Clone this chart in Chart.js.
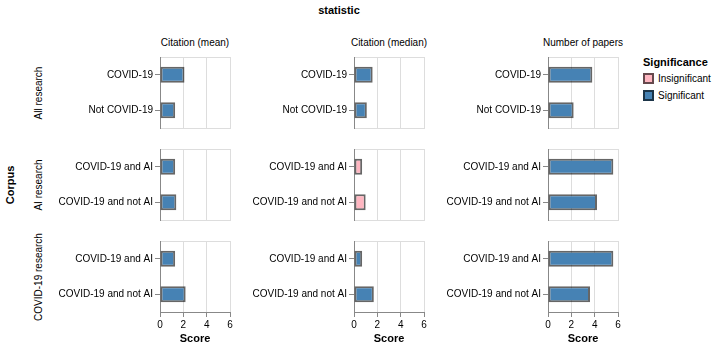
<!DOCTYPE html>
<html>
<head>
<meta charset="utf-8">
<script src="https://cdn.jsdelivr.net/npm/chart.js@4.4.0/dist/chart.umd.min.js"></script>
<style>
  body { margin: 0; background: #fff; font-family: "Liberation Sans", Arial, sans-serif; }
  #wrap { position: relative; width: 716px; height: 349px; overflow: hidden; }
  canvas { position: absolute; }
  .txt { position: absolute; white-space: nowrap; color: #000; font-size: 10px; transform: translate(-50%, -50%); }
  .bold { font-weight: bold; font-size: 11px; }
  .rot { transform: translate(-50%, -50%) rotate(-90deg); }
  .sw { position: absolute; width: 11px; height: 11px; border: 2px solid rgba(0,0,0,0.6); box-sizing: border-box; }
  .lab { position: absolute; font-size: 10px; transform: translateY(-50%); white-space: nowrap; }
</style>
</head>
<body>
<div id="wrap">
  <div class="txt bold" style="left:339px; top:10px;">statistic</div>
  <div class="txt bold rot" style="left:10px; top:185px;">Corpus</div>
  <div class="txt bold" style="left:643px; top:62px; transform:translateY(-50%);">Significance</div>
  <div class="sw" style="left:643px; top:73px; background:#ffb6c1;"></div>
  <div class="lab" style="left:658px; top:78px;">Insignificant</div>
  <div class="sw" style="left:643px; top:90px; background:#4682b4;"></div>
  <div class="lab" style="left:658px; top:95px;">Significant</div>
</div>
<script>
const statistics = ["Citation (mean)", "Citation (median)", "Number of papers"];
const corpora = ["All research", "AI research", "COVID-19 research"];
const groups = [
  ["COVID-19", "Not COVID-19"],
  ["COVID-19 and AI", "COVID-19 and not AI"],
  ["COVID-19 and AI", "COVID-19 and not AI"]
];
// one inner array per corpus row
const citationMean = [[2.1, 1.3], [1.3, 1.4], [1.3, 2.2]];
const citationMedian = [[1.6, 1.1], [0.7, 1.0], [0.7, 1.7]];
const paperCount = [[3.8, 2.2], [5.6, 4.2], [5.6, 3.6]];
const meanSignificant = [[true, true], [true, true], [true, true]];
const medianSignificant = [[true, true], [false, false], [true, true]];
const countSignificant = [[true, true], [true, true], [true, true]];
const scoreTicks = [0, 2, 4, 6];

const values = [citationMean, citationMedian, paperCount];
const significant = [meanSignificant, medianSignificant, countSignificant];

Chart.defaults.font.family = '"Liberation Sans", Arial, sans-serif';
Chart.defaults.color = "#000";

const wrap = document.getElementById("wrap");
const plotLeft = [160, 354, 548];
const plotTop = [57, 149, 241];
const plotW = 70, plotH = 71;
const yW = 120, pad = 3, xH = 37;

function addText(html, x, y, cls) {
  const d = document.createElement("div");
  d.className = "txt " + (cls || "");
  d.style.left = x + "px";
  d.style.top = y + "px";
  d.textContent = html;
  wrap.appendChild(d);
}

statistics.forEach((s, c) => addText(s, plotLeft[c] + plotW / 2, 42));
corpora.forEach((s, r) => addText(s, 38, plotTop[r] + plotH / 2, "rot"));

const frame = {
  id: "frame",
  beforeDraw(chart) {
    const a = chart.chartArea, ctx = chart.ctx;
    ctx.save();
    ctx.strokeStyle = "#ddd";
    ctx.lineWidth = 1;
    const l = Math.round(a.left), t = Math.round(a.top), r = Math.round(a.right), b = Math.round(a.bottom);
    ctx.strokeRect(l + 0.5, t + 0.5, r - l, b - t);
    ctx.restore();
  }
};

function noPad(s) {
  s.paddingTop = 0; s.paddingBottom = 0; s.paddingLeft = 0; s.paddingRight = 0;
}

function makeChart(r, c) {
  const bottom = r === 2;
  const cv = document.createElement("canvas");
  const w = yW + plotW + pad;
  const h = pad + plotH + (bottom ? xH : pad);
  cv.width = w; cv.height = h;
  cv.style.left = (plotLeft[c] - yW) + "px";
  cv.style.top = (plotTop[r] - pad) + "px";
  cv.style.width = w + "px"; cv.style.height = h + "px";
  wrap.appendChild(cv);

  new Chart(cv, {
    type: "bar",
    data: {
      labels: groups[r],
      datasets: [{
        data: values[c][r],
        backgroundColor: significant[c][r].map(v => v ? "#4682b4" : "#ffb6c1"),
        borderColor: "rgba(0,0,0,0.6)",
        borderWidth: 2,
        borderSkipped: false,
        barPercentage: 0.45,
        categoryPercentage: 1
      }]
    },
    options: {
      indexAxis: "y",
      responsive: false,
      animation: false,
      events: [],
      layout: { padding: { left: 0, top: pad, right: pad, bottom: bottom ? 0 : pad } },
      plugins: { legend: { display: false }, tooltip: { enabled: false } },
      scales: {
        x: {
          min: scoreTicks[0],
          max: scoreTicks[scoreTicks.length - 1],
          afterBuildTicks: s => { s.ticks = scoreTicks.map(v => ({ value: v })); },
          afterFit: s => { s.height = bottom ? xH : 0; noPad(s); },
          ticks: { display: bottom, font: { size: 10 }, padding: 2, maxRotation: 0 },
          grid: { color: "#ddd", tickColor: "#888", drawTicks: bottom, tickLength: 5 },
          border: { display: bottom, color: "#888" },
          title: { display: bottom, text: "Score", font: { size: 11, weight: "bold" }, padding: { top: 0, bottom: 3 } }
        },
        y: {
          afterFit: s => { s.width = yW; noPad(s); },
          ticks: { font: { size: 10 }, padding: 2 },
          grid: { offset: false, drawOnChartArea: false, color: "#888", tickLength: 5 },
          border: { color: "#888" }
        }
      }
    },
    plugins: [frame]
  });
}

for (let r = 0; r < corpora.length; r++) {
  for (let c = 0; c < statistics.length; c++) makeChart(r, c);
}
</script>
</body>
</html>
